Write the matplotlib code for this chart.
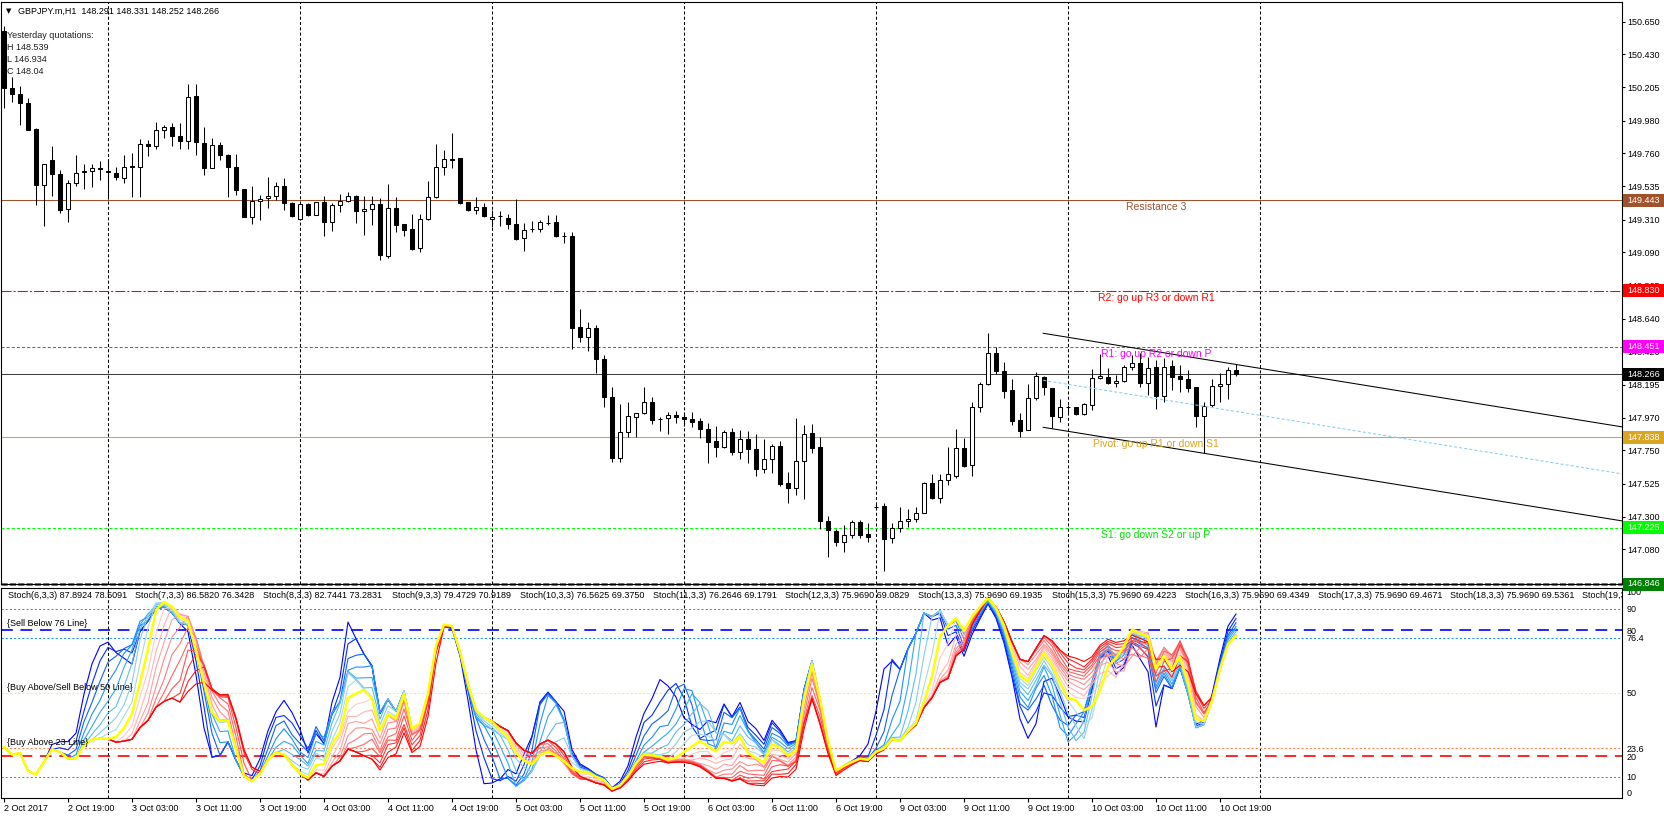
import numpy as np
import matplotlib
matplotlib.use("Agg")
import matplotlib.pyplot as plt
from matplotlib.patches import Rectangle

plt.rcParams['font.family'] = ['Liberation Sans', 'DejaVu Sans']
plt.rcParams['lines.scale_dashes'] = False

# GBPJPY.m H1, first bar 2 Oct 2017 11:00, last bar 10 Oct 21:00
opens = [150.590, 150.201, 150.162, 150.099, 149.926, 149.542, 149.716, 149.621, 149.382, 149.558,
         149.630, 149.640, 149.660, 149.640, 149.626, 149.590, 149.675, 149.666, 149.820, 149.810,
         149.920, 149.937, 149.878, 149.842, 150.149, 149.829, 149.657, 149.815, 149.747, 149.666,
         149.517, 149.328, 149.440, 149.460, 149.472, 149.538, 149.423, 149.315, 149.418, 149.340,
         149.432, 149.292, 149.410, 149.438, 149.468, 149.370, 149.382, 149.418, 149.062, 149.389,
         149.278, 149.247, 149.116, 149.314, 149.463, 149.670, 149.720, 149.729, 149.430, 149.376,
         149.398, 149.315, 149.333, 149.320, 149.283, 149.184, 149.245, 149.247, 149.290, 149.294,
         149.203, 149.200, 148.582, 148.514, 148.578, 148.366, 148.108, 147.700, 147.872, 147.977,
         148.000, 148.075, 147.964, 147.966, 147.986, 147.973, 147.960, 147.948, 147.892, 147.813,
         147.775, 147.876, 147.741, 147.824, 147.757, 147.621, 147.694, 147.779, 147.527, 147.493,
         147.678, 147.865, 147.770, 147.274, 147.206, 147.127, 147.177, 147.263, 147.184, 147.370,
         147.373, 147.154, 147.222, 147.270, 147.283, 147.324, 147.527, 147.430, 147.549, 147.578,
         147.763, 147.648, 148.040, 148.196, 148.406, 148.287, 148.156, 147.953, 147.885, 148.102,
         148.248, 148.169, 147.978, 148.040, 148.041, 147.993, 148.057, 148.237, 148.248, 148.203,
         148.221, 148.316, 148.343, 148.208, 148.316, 148.117, 148.320, 148.253, 148.230, 148.176,
         147.984, 148.054, 148.185, 148.198, 148.291]
highs = [150.620, 150.275, 150.217, 150.133, 149.930, 149.690, 149.810, 149.648, 149.576, 149.750,
         149.690, 149.690, 149.710, 149.720, 149.666, 149.750, 149.763, 149.856, 149.850, 149.970,
         149.950, 149.964, 149.964, 150.230, 150.230, 149.937, 149.862, 149.833, 149.756, 149.756,
         149.520, 149.535, 149.477, 149.600, 149.565, 149.590, 149.430, 149.420, 149.420, 149.430,
         149.468, 149.420, 149.486, 149.500, 149.480, 149.468, 149.472, 149.456, 149.551, 149.463,
         149.280, 149.350, 149.350, 149.570, 149.822, 149.780, 149.896, 149.730, 149.430, 149.466,
         149.420, 149.375, 149.366, 149.350, 149.450, 149.287, 149.300, 149.305, 149.344, 149.344,
         149.230, 149.230, 148.706, 148.616, 148.596, 148.395, 148.181, 148.063, 148.077, 148.000,
         148.181, 148.113, 147.977, 148.010, 148.016, 148.010, 148.010, 147.966, 147.932, 147.914,
         147.887, 147.899, 147.887, 147.881, 147.860, 147.824, 147.793, 147.815, 147.601, 147.966,
         147.921, 147.928, 147.842, 147.306, 147.215, 147.245, 147.278, 147.278, 147.260, 147.390,
         147.391, 147.260, 147.369, 147.350, 147.364, 147.533, 147.590, 147.590, 147.770, 147.894,
         147.831, 148.079, 148.214, 148.541, 148.451, 148.345, 148.232, 148.000, 148.199, 148.282,
         148.250, 148.170, 148.095, 148.060, 148.045, 148.068, 148.300, 148.402, 148.305, 148.260,
         148.327, 148.394, 148.406, 148.384, 148.361, 148.372, 148.361, 148.327, 148.293, 148.176,
         148.079, 148.232, 148.270, 148.316, 148.331]
lows = [150.065, 150.104, 149.948, 149.915, 149.407, 149.265, 149.468, 149.355, 149.292, 149.535,
        149.520, 149.530, 149.580, 149.450, 149.576, 149.560, 149.461, 149.461, 149.740, 149.790,
        149.860, 149.806, 149.788, 149.788, 149.745, 149.614, 149.657, 149.716, 149.461, 149.479,
        149.328, 149.281, 149.310, 149.390, 149.445, 149.378, 149.330, 149.306, 149.338, 149.340,
        149.197, 149.231, 149.360, 149.430, 149.290, 149.207, 149.276, 149.040, 149.051, 149.225,
        149.200, 149.107, 149.090, 149.310, 149.460, 149.612, 149.660, 149.418, 149.370, 149.350,
        149.328, 149.258, 149.270, 149.247, 149.175, 149.100, 149.230, 149.230, 149.272, 149.190,
        149.155, 148.433, 148.485, 148.424, 148.276, 148.041, 147.669, 147.673, 147.838, 147.838,
        147.994, 147.926, 147.883, 147.858, 147.937, 147.914, 147.910, 147.831, 147.662, 147.707,
        147.763, 147.718, 147.694, 147.666, 147.578, 147.594, 147.594, 147.509, 147.396, 147.448,
        147.418, 147.730, 147.215, 147.030, 147.105, 147.064, 147.155, 147.155, 147.132, 147.355,
        146.934, 147.120, 147.200, 147.233, 147.267, 147.324, 147.418, 147.391, 147.515, 147.560,
        147.640, 147.578, 148.011, 148.192, 148.264, 148.102, 147.921, 147.842, 147.885, 148.090,
        148.124, 147.900, 147.944, 148.000, 147.990, 147.990, 148.023, 148.230, 148.199, 148.180,
        148.214, 148.293, 148.180, 148.124, 148.032, 148.079, 148.158, 148.147, 148.147, 147.906,
        147.729, 148.045, 148.079, 148.095, 148.252]
closes = [150.200, 150.160, 150.099, 149.919, 149.542, 149.687, 149.619, 149.378, 149.558, 149.626,
          149.640, 149.660, 149.650, 149.630, 149.596, 149.670, 149.666, 149.822, 149.810, 149.920,
          149.935, 149.874, 149.842, 150.140, 149.833, 149.657, 149.815, 149.745, 149.664, 149.513,
          149.328, 149.438, 149.450, 149.470, 149.540, 149.423, 149.333, 149.416, 149.339, 149.430,
          149.292, 149.410, 149.436, 149.468, 149.366, 149.380, 149.418, 149.070, 149.389, 149.272,
          149.238, 149.114, 149.314, 149.463, 149.666, 149.720, 149.715, 149.423, 149.373, 149.398,
          149.333, 149.330, 149.333, 149.280, 149.180, 149.242, 149.245, 149.294, 149.290, 149.197,
          149.203, 148.580, 148.519, 148.575, 148.366, 148.108, 147.700, 147.871, 147.980, 148.000,
          148.075, 147.957, 147.964, 147.986, 147.973, 147.960, 147.944, 147.892, 147.808, 147.775,
          147.876, 147.741, 147.824, 147.757, 147.621, 147.694, 147.781, 147.522, 147.493, 147.678,
          147.858, 147.768, 147.274, 147.211, 147.132, 147.177, 147.263, 147.177, 147.161, 147.370,
          147.148, 147.222, 147.272, 147.283, 147.324, 147.527, 147.430, 147.549, 147.587, 147.763,
          147.644, 148.040, 148.196, 148.406, 148.287, 148.154, 147.950, 147.881, 148.102, 148.253,
          148.176, 147.982, 148.040, 148.040, 147.993, 148.061, 148.237, 148.255, 148.203, 148.221,
          148.316, 148.343, 148.208, 148.309, 148.117, 148.316, 148.248, 148.230, 148.174, 147.984,
          148.050, 148.187, 148.196, 148.291, 148.266]

tick_labels = ["2 Oct 2017", "2 Oct 19:00", "3 Oct 03:00", "3 Oct 11:00", "3 Oct 19:00",
               "4 Oct 03:00", "4 Oct 11:00", "4 Oct 19:00", "5 Oct 03:00", "5 Oct 11:00",
               "5 Oct 19:00", "6 Oct 03:00", "6 Oct 11:00", "6 Oct 19:00", "9 Oct 03:00",
               "9 Oct 11:00", "9 Oct 19:00", "10 Oct 03:00", "10 Oct 11:00", "10 Oct 19:00"]
day_start_bars = [13, 37, 61, 85, 109, 133, 157]

price_ticks = [150.650, 150.430, 150.205, 149.980, 149.760, 149.535, 149.310, 149.090, 148.865,
               148.640, 148.420, 148.195, 147.970, 147.750, 147.525, 147.300, 147.080]
price_min, price_max = 146.846, 150.783

# pivot levels: (price, colour, text under the line)
r3, r2, r1, pivot, s1, s2 = 149.443, 148.830, 148.451, 147.838, 147.225, 146.846
last_price = 148.266

# regression channel drawn from bar 130
channel_bar = 129.9
channel_upper = 148.542
channel_lower = 147.906
channel_slope = -0.00875

stoch_blue = [6, 7, 8, 9, 10, 11, 12, 13]
stoch_yellow = 14
stoch_red = [15, 16, 17, 18, 19, 20, 21, 22, 23, 24]
stoch_header = ["Stoch(6,3,3) 87.8924 78.5091", "Stoch(7,3,3) 86.5820 76.3428",
                "Stoch(8,3,3) 82.7441 73.2831", "Stoch(9,3,3) 79.4729 70.9189",
                "Stoch(10,3,3) 76.5625 69.3750", "Stoch(11,3,3) 76.2646 69.1791",
                "Stoch(12,3,3) 75.9690 69.0829", "Stoch(13,3,3) 75.9690 69.1935",
                "Stoch(15,3,3) 75.9690 69.4223", "Stoch(16,3,3) 75.9690 69.4349",
                "Stoch(17,3,3) 75.9690 69.4671", "Stoch(18,3,3) 75.9690 69.5361",
                "Stoch(19,3,3) 75.9690 69.5690"]
stoch_ticks = [0, 10, 20, 23.6, 50, 76.4, 80, 90, 100]
stoch_tick_labels = ["0", "10", "20", "23.6", "50", "76.4", "80", "90", "100"]

W, H = 1665, 819
FS = 6.5


def fx(px):
    return px / W


def fy(py):
    return 1 - py / H


def stoch_main(hi, lo, cl, k, slowing=3):
    n = len(cl)
    num = np.zeros(n)
    den = np.zeros(n)
    for i in range(n):
        s = max(0, i - k + 1)
        ll = lo[s:i + 1].min()
        num[i] = cl[i] - ll
        den[i] = hi[s:i + 1].max() - ll
    out = np.zeros(n)
    for i in range(n):
        s = max(0, i - slowing + 1)
        d = den[s:i + 1].sum()
        out[i] = 100 * num[s:i + 1].sum() / d if d > 0 else 100
    return out


o = np.array(opens)
h = np.array(highs)
l = np.array(lows)
c = np.array(closes)
idx = np.arange(len(c))

fig = plt.figure(figsize=(W / 100, H / 100), dpi=100)
fig.patch.set_facecolor('white')

ax = fig.add_axes([fx(1), fy(584), fx(1621), (584 - 2) / H])
ax2 = fig.add_axes([fx(1), fy(798), fx(1621), (798 - 588) / H])

xmin, xmax = -0.375, 202.25
for a in (ax, ax2):
    a.set_xlim(xmin, xmax)
    for sp in a.spines.values():
        sp.set_linewidth(0.8)
        sp.set_color('black')
    for b in day_start_bars:
        a.axvline(b, color='black', lw=0.75, ls=(0, (2.2, 1.6)), zorder=1)

# ---- price panel
ax.set_ylim(price_min, price_max)
ax.vlines(idx, l, h, color='black', lw=0.75, zorder=3)
body_col = np.where(c >= o, 'white', 'black')
ax.bar(idx, np.abs(c - o), 0.55, bottom=np.minimum(o, c), color=body_col,
       edgecolor='black', linewidth=0.75, zorder=4)

ax.axhline(r3, color='#A0522D', lw=0.75, zorder=2)
ax.axhline(r2, color='#FF0000', lw=0.75, ls=(0, (7.2, 1.5, 1.5, 1.5)), zorder=2)
ax.axhline(r1, color='#FF00FF', lw=0.75, ls=(0, (2.2, 1.5)), zorder=2)
ax.axhline(last_price, color='#404040', lw=0.75, zorder=2)
ax.axhline(pivot, color='#DAA520', lw=0.75, zorder=2)
ax.axhline(s1, color='#00FF00', lw=0.75, ls=(0, (2.2, 1.5)), zorder=2)
ax.axhline(s2, color='#008000', lw=1.8, ls=(0, (4.5, 1.5)), zorder=2, clip_on=False)

cx = np.array([channel_bar, xmax])
ax.plot(cx, channel_upper + channel_slope * (cx - channel_bar), color='black', lw=0.75, zorder=5)
ax.plot(cx, channel_lower + channel_slope * (cx - channel_bar), color='black', lw=0.75, zorder=5)
ax.plot(cx, (channel_upper + channel_lower) / 2 + channel_slope * (cx - channel_bar),
        color='#87CEEB', lw=0.75, ls=(0, (2.2, 1.5)), zorder=5)

level_text = [(r3, "Resistance 3", '#A0522D'), (r2, "R2: go up R3 or down R1", '#FF0000'),
              (r1, "R1: go up R2 or down P", '#FF00FF'), (pivot, "Pivot: go up R1 or down S1", '#DAA520'),
              (s1, "S1: go down S2 or up P", '#00E000')]
for p, t, col in level_text:
    ax.annotate(t, (144, p), xytext=(0, -7), textcoords='offset pixels', ha='center',
                va='center', color=col, fontsize=7.5, zorder=6)

ax.yaxis.tick_right()
ax.set_yticks(price_ticks)
ax.set_yticklabels([f"{v:.3f}" for v in price_ticks])
ax.tick_params(axis='y', length=2.2, width=0.8, pad=1.5, labelsize=FS)
ax.tick_params(axis='x', bottom=False, labelbottom=False)

# ---- stochastic ribbon
ax2.set_ylim(0, 100)
blue_cols = ['#0000FF', '#0030FF', '#1060FF', '#1E90FF', '#30A8F8', '#5CBCF2', '#87CEEB', '#ADD8E6']
red_cols = ['#FFC8C8', '#FFB4B4', '#FFA0A0', '#FF8C8C', '#FF7878', '#FF6464',
            '#FF5050', '#FF3A3A', '#FF2020', '#FF0000']
for k, col in zip(stoch_blue, blue_cols):
    ax2.plot(idx, stoch_main(h, l, c, k), color=col, lw=0.8, zorder=3)
for k, col in zip(stoch_red, red_cols):
    ax2.plot(idx, stoch_main(h, l, c, k), color=col, lw=0.8, zorder=3)
ax2.plot(idx, stoch_main(h, l, c, stoch_yellow), color='#FFFF00', lw=1.8, zorder=4)

ax2.axhline(90, color='#808080', lw=0.75, ls=(0, (1.5, 1.5)), zorder=2)
ax2.axhline(10, color='#808080', lw=0.75, ls=(0, (1.5, 1.5)), zorder=2)
ax2.axhline(80, color='#0000FF', lw=1.2, ls=(0, (8.5, 5.5)), zorder=2)
ax2.axhline(76.4, color='#1E90FF', lw=0.75, ls=(0, (1.5, 1.5)), zorder=2)
ax2.axhline(50, color='#FFFF00', lw=0.75, ls=(0, (1.5, 1.5)), zorder=2)
ax2.axhline(23.6, color='#FF7F50', lw=0.75, ls=(0, (1.5, 1.5)), zorder=2)
ax2.axhline(20, color='#FF0000', lw=1.2, ls=(0, (8.5, 5.5)), zorder=2)

for v, t in [(80, "{Sell Below 76 Line}"), (50, "{Buy Above/Sell Below 50 Line}"),
             (23.6, "{Buy Above 23 Line}")]:
    ax2.annotate(t, (0, v), xytext=(3, 6), textcoords='offset pixels', ha='left',
                 va='center', fontsize=FS, zorder=6)

header_x = [8, 135, 263, 392, 520, 653, 785, 918, 1052, 1185, 1318, 1450, 1582]
for px, t in zip(header_x, stoch_header):
    ax2.text((px - 1) / 1621, 1 - 8 / 210, t, transform=ax2.transAxes, ha='left',
             va='center', fontsize=FS, zorder=6, clip_on=True)

ax2.yaxis.tick_right()
ax2.set_yticks(stoch_ticks)
ax2.set_yticklabels(stoch_tick_labels)
ax2.tick_params(axis='y', length=0, pad=3, labelsize=FS)
lbls = ax2.get_yticklabels()
lbls[0].set_verticalalignment('bottom')
lbls[-1].set_verticalalignment('top')

ax2.set_xticks(idx[::8])
ax2.set_xticklabels(tick_labels, ha='left', fontsize=FS)
ax2.tick_params(axis='x', length=3, width=0.8, pad=1.5, direction='out')

# ---- right-hand price boxes
fig.canvas.draw()
for p, bg in [(r3, '#A0522D'), (r2, '#FF0000'), (r1, '#FF00FF'), (last_price, '#000000'),
              (pivot, '#DAA520'), (s1, '#00FF00'), (s2, '#008000')]:
    yd = ax.transData.transform((0, p))[1] / fig.bbox.height
    fig.add_artist(Rectangle((fx(1623), yd - 6.5 / H), 42 / W, 13 / H, transform=fig.transFigure,
                             fc=bg, ec='none', zorder=5))
    fig.text(fx(1627), yd, f"{p:.3f}", color='white', ha='left', va='center', fontsize=FS, zorder=6)

# ---- header texts
fig.text(fx(6), fy(11), "\u25bc", fontsize=5, va='center', ha='left',
         family=['DejaVu Sans'])
fig.text(fx(18), fy(11), "GBPJPY.m,H1  148.291 148.331 148.252 148.266", fontsize=FS,
         va='center', ha='left')
for py, t in [(35.5, "Yesterday quotations:"), (47.5, "H 148.539"), (59.5, "L 146.934"),
              (71.5, "C 148.04")]:
    fig.text(fx(7), fy(py), t, fontsize=FS, va='center', ha='left', color='#202020')

fig.savefig("out.png", dpi=100, facecolor='white')
